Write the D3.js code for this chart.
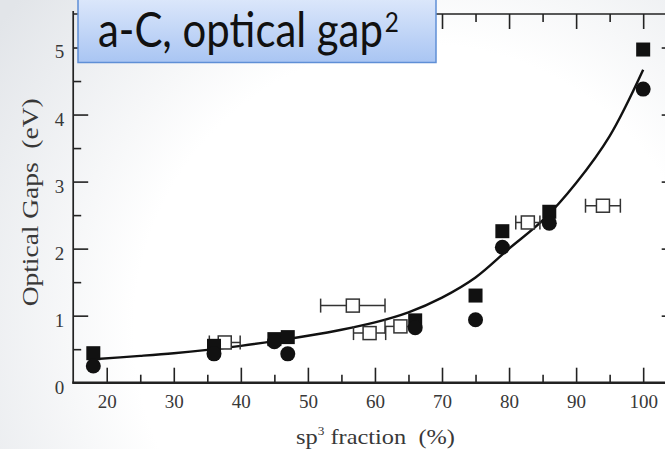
<!DOCTYPE html>
<html>
<head>
<meta charset="utf-8">
<script src="https://cdn.jsdelivr.net/npm/d3@7"></script>
<style>
  html, body { margin: 0; padding: 0; background: #fff; }
  svg { display: block; }
  text { white-space: pre; }
</style>
</head>
<body>
<svg id="chart" width="665" height="449"></svg>
<script>
// ---------------- data ----------------
const xTickValues = [20, 30, 40, 50, 60, 70, 80, 90, 100];
const xMinorTicks = [25, 35, 45, 55, 65, 75, 85, 95];
const yTickValues = [0, 1, 2, 3, 4, 5];
const yMinorTicks = [0.5, 1.5, 2.5, 3.5, 4.5];

// filled squares
const squareX = [18, 36, 45, 47, 66, 75, 79, 86, 100];
const squareY = [0.44, 0.55, 0.65, 0.68, 0.93, 1.30, 2.26, 2.55, 4.97];
// filled circles
const circleX = [18, 36, 45, 47, 66, 75, 79, 86, 100];
const circleY = [0.25, 0.43, 0.61, 0.43, 0.82, 0.94, 2.02, 2.38, 4.38];
// open squares with horizontal error bars
const openX = [37.6, 56.7, 59.2, 63.8, 82.8, 94.0];
const openY = [0.60, 1.15, 0.74, 0.84, 2.39, 2.64];
const openXErr = [2.3, 4.8, 2.4, 2.3, 1.8, 2.6];
// fitted curve, points
const curveX = [18, 25, 30, 35, 40, 45, 50, 55, 60, 65, 70, 75, 80, 85, 90, 95, 100];
const curveY = [0.35, 0.40, 0.44, 0.49, 0.55, 0.62, 0.70, 0.79, 0.90, 1.05, 1.27, 1.57, 2.00, 2.42, 2.98, 3.68, 4.67];

const titleText = "a-C, optical gap";
const titleSup = "2";
const xTitle = ["sp", "3", " fraction  (%)"];
const yTitle = "Optical Gaps  (eV)";

// ---------------- layout ----------------
const svg = d3.select("#chart");
const W = 665, H = 449;
const pLeft = 73.2, pRight = 676.7, pTop = 14, pBottom = 382.7;

const x = d3.scaleLinear().domain([15, 105]).range([pLeft, pRight]);
const y = d3.scaleLinear().domain([0, 5.5]).range([pBottom, pTop]);

// background vignette (slide photo look)
const defs = svg.append("defs");
const rg = defs.append("radialGradient").attr("id", "bg")
  .attr("gradientUnits", "userSpaceOnUse")
  .attr("cx", 420).attr("cy", 330).attr("r", 520);
rg.append("stop").attr("offset", "0.55").attr("stop-color", "#ffffff");
rg.append("stop").attr("offset", "1").attr("stop-color", "#e2e5e9");
svg.append("rect").attr("width", W).attr("height", H).attr("fill", "url(#bg)");

const inkColor = "#222";
const textColor = "#383838";
const serif = "'Liberation Serif', 'Times New Roman', serif";

// ---------------- axes ----------------
function styleAxis(g) {
  g.select(".domain").remove();
  g.selectAll(".tick line").attr("stroke", inkColor).attr("stroke-width", 1.6);
  g.selectAll(".tick text").attr("fill", textColor)
    .attr("font-family", serif)
    .attr("font-size", 19);
}

svg.append("g").attr("transform", `translate(0,${pBottom})`)
  .call(d3.axisBottom(x).tickValues(xTickValues).tickSize(-15).tickPadding(12).tickFormat(d3.format("d")))
  .call(styleAxis);
svg.append("g").attr("transform", `translate(0,${pBottom})`)
  .call(d3.axisBottom(x).tickValues(xMinorTicks).tickSize(-8).tickFormat(""))
  .call(styleAxis);

svg.append("g").attr("transform", `translate(0,${pTop})`)
  .call(d3.axisTop(x).tickValues(xTickValues).tickSize(-15).tickFormat(""))
  .call(styleAxis);
svg.append("g").attr("transform", `translate(0,${pTop})`)
  .call(d3.axisTop(x).tickValues(xMinorTicks).tickSize(-8).tickFormat(""))
  .call(styleAxis);

const yAx = svg.append("g").attr("transform", `translate(${pLeft},0)`)
  .call(d3.axisLeft(y).tickValues(yTickValues).tickSize(-15).tickPadding(9).tickFormat(d3.format("d")))
  .call(styleAxis);
yAx.selectAll(".tick text").attr("dy", "0.55em");
svg.append("g").attr("transform", `translate(${pLeft},0)`)
  .call(d3.axisLeft(y).tickValues(yMinorTicks).tickSize(-8).tickFormat(""))
  .call(styleAxis);

svg.append("g").attr("transform", `translate(${pRight},0)`)
  .call(d3.axisRight(y).tickValues(yTickValues).tickSize(-15).tickFormat(""))
  .call(styleAxis);
svg.append("g").attr("transform", `translate(${pRight},0)`)
  .call(d3.axisRight(y).tickValues(yMinorTicks).tickSize(-8).tickFormat(""))
  .call(styleAxis);

// frame
svg.append("line").attr("x1", pLeft).attr("x2", pRight).attr("y1", pTop).attr("y2", pTop)
  .attr("stroke", inkColor).attr("stroke-width", 1.5);
svg.append("line").attr("x1", pLeft).attr("x2", pLeft).attr("y1", pTop - 3).attr("y2", pBottom)
  .attr("stroke", inkColor).attr("stroke-width", 1.7);
svg.append("line").attr("x1", pRight).attr("x2", pRight).attr("y1", pTop).attr("y2", pBottom)
  .attr("stroke", inkColor).attr("stroke-width", 1.7);
svg.append("line").attr("x1", pLeft - 1).attr("x2", pRight).attr("y1", pBottom).attr("y2", pBottom)
  .attr("stroke", inkColor).attr("stroke-width", 2.4);

// axis titles
const xt = svg.append("text")
  .attr("x", 296).attr("y", 444)
  .attr("font-family", serif)
  .attr("font-size", 22).attr("fill", textColor);
xt.append("tspan").text(xTitle[0]);
xt.append("tspan").attr("dy", -9).attr("font-size", 12).text(xTitle[1]);
xt.append("tspan").attr("dy", 9).text(xTitle[2]);
// stretch to the width seen in the picture
const xtW = xt.node().getComputedTextLength();
xt.attr("transform", `translate(296,0) scale(${159 / xtW},1) translate(-296,0)`);

const ytxt = svg.append("text")
  .attr("text-anchor", "middle")
  .attr("font-family", serif)
  .attr("font-size", 23).attr("fill", textColor)
  .text(yTitle);
const ytW = ytxt.node().getComputedTextLength();
ytxt.attr("transform", `translate(38,${(pTop + pBottom) / 2 + 4}) rotate(-90) scale(${208 / ytW},1)`);

// ---------------- marks ----------------
const curvePts = curveX.map((d, i) => [d, curveY[i]]);
svg.append("path")
  .datum(curvePts)
  .attr("fill", "none").attr("stroke", "#111").attr("stroke-width", 2.4)
  .attr("d", d3.line().x(d => x(d[0])).y(d => y(d[1])).curve(d3.curveCatmullRom.alpha(0.5)));

// open squares with x error bars
const openData = openX.map((d, i) => ({ x: d, y: openY[i], e: openXErr[i] }));
const og = svg.append("g").attr("stroke", "#333").attr("stroke-width", 1.5);
og.selectAll(".eb").data(openData).join("line")
  .attr("x1", d => x(d.x - d.e)).attr("x2", d => x(d.x + d.e))
  .attr("y1", d => y(d.y)).attr("y2", d => y(d.y));
og.selectAll(".capL").data(openData).join("line")
  .attr("x1", d => x(d.x - d.e)).attr("x2", d => x(d.x - d.e))
  .attr("y1", d => y(d.y) - 7).attr("y2", d => y(d.y) + 7);
og.selectAll(".capR").data(openData).join("line")
  .attr("x1", d => x(d.x + d.e)).attr("x2", d => x(d.x + d.e))
  .attr("y1", d => y(d.y) - 7).attr("y2", d => y(d.y) + 7);
og.selectAll("rect").data(openData).join("rect")
  .attr("x", d => x(d.x) - 6.5).attr("y", d => y(d.y) - 6.5)
  .attr("width", 13).attr("height", 13)
  .attr("fill", "#fff");

// filled squares
const sqData = squareX.map((d, i) => ({ x: d, y: squareY[i] }));
svg.append("g").selectAll("rect").data(sqData).join("rect")
  .attr("x", d => x(d.x) - 7).attr("y", d => y(d.y) - 7)
  .attr("width", 14).attr("height", 14)
  .attr("fill", "#111");

// filled circles
const ciData = circleX.map((d, i) => ({ x: d, y: circleY[i] }));
svg.append("g").selectAll("circle").data(ciData).join("circle")
  .attr("cx", d => x(d.x)).attr("cy", d => y(d.y)).attr("r", 7.5)
  .attr("fill", "#111");

// ---------------- title box ----------------
const lg = defs.append("linearGradient").attr("id", "boxg")
  .attr("x1", 0).attr("y1", 0).attr("x2", 0).attr("y2", 1);
lg.append("stop").attr("offset", "0").attr("stop-color", "#dde8fb");
lg.append("stop").attr("offset", "1").attr("stop-color", "#a9c5f3");
svg.append("rect")
  .attr("x", 78).attr("y", -3).attr("width", 358).attr("height", 65.5)
  .attr("fill", "url(#boxg)").attr("stroke", "#5f8fd6").attr("stroke-width", 1.5);

const tt = svg.append("text")
  .attr("x", 0).attr("y", 0)
  .attr("font-family", "Lato, 'Open Sans', sans-serif")
  .attr("font-size", 40).attr("fill", "#111");
const ttMain = tt.append("tspan").text(titleText);
// fit main title to the size seen in the picture (narrow humanist face)
const hScale = 0.88;
const w0 = ttMain.node().getComputedTextLength();
const fs = 40 * 285 / (w0 * hScale);
tt.attr("font-size", fs);
tt.append("tspan").attr("dx", 2).attr("dy", -fs * 0.32).attr("font-size", fs * 0.58).text(titleSup);
tt.attr("transform", `translate(98,47) scale(${hScale},1)`);
</script>
</body>
</html>
